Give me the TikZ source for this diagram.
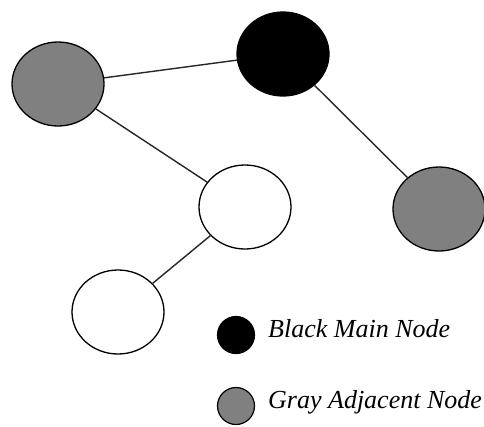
\documentclass[tikz,border=0pt]{standalone}
\usepackage{fontspec}
\setmainfont{Liberation Serif}
\usetikzlibrary{shapes.geometric}
\definecolor{nodegray}{RGB}{128,128,128}
\tikzset{
  gnode/.style={ellipse, draw=black, line width=1.3pt, minimum width=92pt, minimum height=84pt, inner sep=0pt},
  graynode/.style={gnode, fill=nodegray},
  blacknode/.style={gnode, fill=black},
  whitenode/.style={gnode, fill=white},
  link/.style={draw=black!85, line width=1.4pt},
  legdot/.style={circle, draw=black, line width=1.2pt, minimum size=37pt, inner sep=0pt},
  legtext/.style={anchor=base west, inner sep=0pt, font=\fontsize{26}{29}\selectfont\itshape}
}
\begin{document}
\begin{tikzpicture}[x=1pt,y=-1pt]
\useasboundingbox (0,0) rectangle (484,426);
\clip (0,0) rectangle (484,426);
\node[graynode] (g1) at (58,84) {};
\node[blacknode] (b) at (283,54) {};
\node[graynode] (g2) at (439,209) {};
\node[whitenode] (w1) at (245,207) {};
\node[whitenode] (w2) at (118,312) {};
\draw[link] (g1) -- (b);
\draw[link] (b) -- (g2);
\draw[link] (g1) -- (w1);
\draw[link] (w1) -- (w2);
\node[legdot, fill=black] (lb) at (236,335) {};
\node[legdot, fill=nodegray] (lg) at (236,406) {};
\node[legtext] (tb) at (268,337) {Black Main Node};
\node[legtext] (tg) at (268,408) {Gray Adjacent Node};
\end{tikzpicture}
\end{document}
